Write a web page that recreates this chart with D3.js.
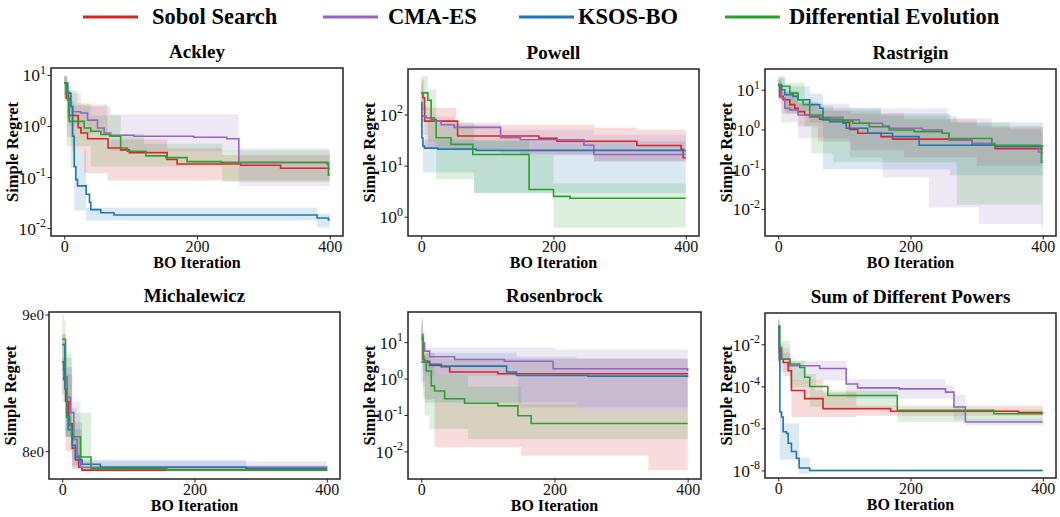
<!DOCTYPE html>
<html>
<head>
<meta charset="utf-8">
<script src="https://cdn.jsdelivr.net/npm/d3@7"></script>
<style>
  body { margin: 0; background: #fff; }
  svg { display: block; font-family: "Liberation Serif", "Times New Roman", serif; }
</style>
</head>
<body>
<svg id="chart"></svg>
<script>
// methods and colours
const methods = ["Sobol Search", "CMA-ES", "KSOS-BO", "Differential Evolution"];
const colors = ["#d62728", "#9467bd", "#1f77b4", "#2ca02c"];
const titles = ["Ackley", "Powell", "Rastrigin", "Michalewicz", "Rosenbrock", "Sum of Different Powers"];
const xTicks = [0, 200, 400];

// mean curves: [iteration, simple regret]; bands: [iteration, lower, upper]
// --- Ackley
const ackleySobol = [[0,6.9],[3,3.5],[7,1.6],[21,0.92],[25,0.73],[35,0.56],[66,0.37],[85,0.34],[98,0.30],[155,0.22],[170,0.18],[266,0.17],[326,0.148],[400,0.148]];
const ackleySobolBand = [[0,3,9.5],[4,0.6,4],[12,0.32,2.6],[30,0.12,2.6],[65,0.085,0.55],[155,0.085,0.36],[238,0.085,0.27],[400,0.085,0.27]];
const ackleyCma = [[0,6.9],[5,3.2],[7.5,2.4],[12.5,1.9],[25,1.8],[35,1.3],[50,0.91],[60,0.73],[70,0.66],[105,0.63],[195,0.6],[245,0.56],[263,0.19],[400,0.19]];
const ackleyCmaBand = [[0,4,9.5],[5,1.0,4.4],[25,0.73,2.4],[70,0.32,1.7],[263,0.067,0.36],[400,0.067,0.36]];
const ackleyKsos = [[0,7],[5,4.4],[10,2.4],[12.5,0.63],[15,0.16],[17.5,0.089],[20,0.067],[33,0.046],[38,0.032],[40,0.023],[55,0.020],[75,0.018],[381,0.0157],[398,0.0144],[400,0.0144]];
const ackleyKsosBand = [[0,4,9],[5,1.5,6],[10,0.15,3],[15,0.022,0.32],[33,0.014,0.025],[381,0.0103,0.019],[400,0.0103,0.019]];
const ackleyDe = [[0,6.9],[3.5,4.7],[6.5,1.43],[7.5,1.23],[30,0.91],[40,0.79],[55,0.68],[68,0.63],[85,0.37],[95,0.32],[123,0.26],[153,0.24],[185,0.2],[236,0.195],[396,0.18],[398,0.11],[400,0.11]];
const ackleyDeBand = [[0,3.5,10],[3.5,0.4,5],[20,0.4,2.8],[40,0.16,1.6],[85,0.16,0.7],[120,0.16,0.45],[238,0.08,0.33],[400,0.08,0.33]];
// --- Powell
const powellSobol = [[0,265],[2.5,212],[5,74],[55,38],[178,34],[205,30],[326,24.7],[393,20.8],[396,14.2],[400,14.2]];
const powellSobolBand = [[0,120,480],[5,21,135],[53,21,63],[150,16.5,63],[261,12.3,55],[326,12.3,50],[400,12.3,50]];
const powellCma = [[0,93],[7.5,86],[20,74],[30,63],[50,56],[120,35],[150,32],[246,25],[261,16.5],[400,16.5]];
const powellCmaBand = [[0,40,150],[10,22,90],[50,20,70],[120,16,50],[261,12,40],[400,12,40]];
const powellKsos = [[0,170],[1,35],[2.5,24],[5,22],[25,21],[83,19.8],[400,19.8]];
const powellKsosBand = [[0,60,400],[2.5,7.3,32],[80,2.9,30],[400,2.9,30]];
const powellDe = [[0,265],[10,190],[15,80],[22.5,35],[45,26],[78,16.5],[163,3.4],[200,2.5],[225,2.3],[400,2.3]];
const powellDeBand = [[0,120,560],[10,30,300],[22.5,5.4,69],[80,2.9,32],[163,2.9,16],[200,0.61,4.5],[400,0.61,4.5]];
// --- Rastrigin
const rastSobol = [[0,12.2],[2.5,6.8],[7.5,5.6],[17.5,4.2],[25,3.4],[30,2.8],[40,2.3],[47.6,2.1],[62.7,1.8],[97.7,1.49],[107.8,1.0],[120.3,0.8],[155.4,0.66],[172.9,0.57],[293,0.40],[328,0.33],[400,0.33]];
const rastSobolBand = [[0,6,18],[5,2.5,9],[30,1.2,5],[60,0.5,3.0],[110,0.3,2.5],[190,0.2,1.8],[300,0.12,1.2],[400,0.12,1.0]];
const rastCma = [[0,12.2],[5,6.2],[10,3.4],[17.5,3.1],[30,2.3],[47.6,2.03],[97.7,1.74],[122.8,1.43],[157.9,1.22],[167.9,1.07],[218,0.97],[248,0.8],[258,0.54],[293,0.45],[328,0.37],[393.5,0.27],[398,0.25],[400,0.25]];
const rastCmaBand = [[0,5,18],[5,1.5,9],[30,0.6,4.5],[108,0.2,3.4],[158,0.063,3.4],[228,0.011,3.4],[256,0.011,1.9],[303,0.0042,1.9],[323,0.0042,1.1],[400,0.0042,1.1]];
const rastKsos = [[0,13.4],[5,10],[10,7.5],[22.5,6.8],[30,5.6],[47.6,4.2],[62.7,3.4],[67.7,1.74],[77.7,1.57],[97.7,1.43],[102.8,1.07],[135.3,0.8],[172.9,0.66],[213,0.40],[328,0.38],[400,0.37]];
const rastKsosBand = [[0,7,20],[10,3,12],[47.6,1.5,8],[67.7,0.1,3.5],[155,0.1,2.5],[260,0.07,1.5],[400,0.07,1.3]];
const rastDe = [[0,13.4],[2.5,12.2],[17.5,8.2],[30,5.6],[37.6,4.2],[47.6,2.3],[67.7,1.9],[77.7,1.74],[97.7,1.64],[112.8,1.43],[137.8,1.17],[167.9,0.97],[205.5,0.88],[248,0.8],[258,0.59],[323,0.40],[396,0.38],[398,0.15],[400,0.15]];
const rastDeBand = [[0,6,22],[10,2.5,15],[40,1.2,6],[50,0.25,4],[83,0.15,3],[155,0.15,2.2],[270,0.013,1.5],[350,0.013,1.0],[398,0.003,0.8],[400,0.003,0.8]];
// --- Michalewicz
const michSobol = [[0,8.64],[2.5,8.51],[5,8.35],[10,8.19],[15,8.02],[20,7.94],[25,7.89],[30,7.87],[400,7.865]];
const michSobolBand = [[0,8.4,8.85],[5,8.0,8.55],[15,7.9,8.15],[30,7.86,7.89],[400,7.86,7.875]];
const michCma = [[0,8.58],[2.5,8.53],[7.5,8.38],[12.5,8.27],[17.5,8.08],[22.5,7.97],[27.6,7.89],[400,7.88]];
const michCmaBand = [[0,8.35,8.67],[5,8.1,8.67],[15,7.88,8.35],[27.6,7.86,7.93],[400,7.865,7.89]];
const michKsos = [[0,8.77],[1.5,8.77],[4,8.44],[6.5,8.24],[9,8.15],[15,8.04],[20,7.96],[25,7.94],[30,7.91],[57.6,7.89],[278,7.88],[400,7.88]];
const michKsosBand = [[0,8.5,8.85],[5,8.1,8.6],[15,7.88,8.2],[30,7.865,7.94],[278,7.865,7.9],[400,7.87,7.885]];
const michDe = [[0,8.81],[2.5,8.81],[5,8.44],[7.5,8.24],[11.5,8.18],[14,8.10],[27.6,7.96],[43.6,7.88],[158,7.87],[400,7.87]];
const michDeBand = [[0,8.6,9.0],[2.5,8.5,8.95],[5,8.1,8.7],[14,7.95,8.3],[22,7.91,8.27],[43.6,7.87,7.9],[400,7.865,7.875]];
// --- Rosenbrock
const rosSobol = [[0,11.8],[2.5,3.36],[5,3.0],[12.5,2.3],[30,2.12],[42.6,1.51],[115,1.36],[400,1.33]];
const rosSobolBand = [[0,3,30],[2.5,0.6,6],[5,0.27,5.1],[20,0.0129,3.5],[150,0.0076,3.5],[341,0.003,3.5],[400,0.003,3.5]];
const rosCma = [[0,16.2],[2.5,9.6],[5,5.7],[12.5,3.98],[50,3.36],[125,3.0],[198,1.86],[400,1.61]];
const rosCmaBand = [[0,5,45],[2.5,1.5,20],[5,1.17,7.0],[145,0.16,7.0],[200,0.16,6.3],[400,0.16,6.3]];
const rosKsos = [[0,2.84],[12.5,2.45],[30,2.2],[128,1.51],[143,1.22],[250,1.17],[400,1.10]];
const rosKsosBand = [[0,0.8,5.1],[5,0.22,5.1],[143,0.22,4.0],[233,0.117,3.5],[400,0.117,3.5]];
const rosDe = [[0,13.7],[2.5,4.1],[4,2.84],[7.5,1.61],[15,0.63],[20,0.457],[35,0.28],[65,0.21],[115,0.178],[145,0.095],[165,0.058],[400,0.058]];
const rosDeBand = [[0,3,42],[2.5,0.3,15],[5,0.095,4.1],[12.5,0.041,2.5],[20,0.041,1.2],[70,0.022,0.6],[150,0.022,0.2],[233,0.022,0.117],[400,0.022,0.117]];
// --- Sum of Different Powers
const sdpSobol = [[0,0.073],[1.5,0.007],[3.5,0.00197],[7.5,0.00137],[15,5.5e-4],[20,6.3e-5],[40,2.6e-5],[67.7,8.7e-6],[170,6.5e-6],[363,5.6e-6],[400,5.6e-6]];
const sdpSobolBand = [[0,0.02,0.15],[1.5,0.002,0.01],[7.5,3e-4,0.004],[20,3.5e-6,2e-4],[67.7,3.5e-6,5.3e-5],[118,4e-6,1.2e-5],[400,4e-6,8e-6]];
const sdpCma = [[0,0.061],[1.5,0.0041],[5,0.00197],[17.5,9.5e-4],[62.6,7.1e-4],[102.8,1.3e-4],[120,8.5e-5],[183,7.6e-5],[253,5.3e-5],[265.7,1.05e-5],[283,2.0e-6],[400,2.0e-6]];
const sdpCmaBand = [[0,0.02,0.15],[1.5,5e-4,0.007],[17.5,1.9e-4,0.00164],[102.8,2.6e-5,2.2e-4],[253,2.6e-5,1.2e-4],[265.7,2.6e-6,4e-5],[283,1.4e-6,3e-6],[400,1.4e-6,3e-6]];
const sdpKsos = [[0,0.061],[1.5,0.00164],[2.5,6e-6],[5,3.5e-6],[7.5,6.9e-7],[12.5,5.7e-7],[15,1.95e-7],[20,7.9e-8],[27.5,3.8e-8],[31.6,1.3e-8],[47.6,1e-8],[400,1e-8]];
const sdpKsosBand = [[0,0.01,0.15],[1.5,2e-5,0.007],[2.5,3.2e-8,6e-6],[7.5,3.2e-8,1.7e-6],[31.6,7e-9,4e-8],[47.6,8.5e-9,1.15e-8],[400,8.5e-9,1.15e-8]];
const sdpDe = [[0,0.073],[2.5,0.007],[5,0.00197],[17.5,0.00115],[32.6,7.9e-4],[40,2.7e-4],[47.6,9.8e-5],[75,3.7e-5],[180,7.2e-6],[326,5.0e-6],[400,5.0e-6]];
const sdpDeBand = [[0,0.03,0.15],[2.5,0.002,0.0144],[17.5,9.1e-5,0.00164],[40,9.1e-5,3.9e-4],[47.6,1.05e-5,3.9e-4],[57,1.05e-5,6.3e-5],[180,2e-6,8e-6],[400,2e-6,8e-6]];

// y axes
const ackleyDomain = [Math.pow(10,-2.156), Math.pow(10,1.136)];
const powellDomain = [Math.pow(10,-0.378), Math.pow(10,2.89)];
const rastDomain = [Math.pow(10,-2.68), Math.pow(10,1.52)];
const michDomain = [7.81, 9.02];
const rosDomain = [Math.pow(10,-2.76), Math.pow(10,1.83)];
const sdpDomain = [Math.pow(10,-8.36), Math.pow(10,-0.51)];
const ackleyTicks = [1e-2, 1e-1, 1, 10];
const powellTicks = [1, 10, 100];
const rastTicks = [1e-2, 1e-1, 1, 10];
const michTicks = [8, 9];
const rosTicks = [1e-2, 1e-1, 1, 10];
const sdpTicks = [1e-8, 1e-6, 1e-4, 1e-2];

const panels = [
  { means: [ackleySobol, ackleyCma, ackleyKsos, ackleyDe], bands: [ackleySobolBand, ackleyCmaBand, ackleyKsosBand, ackleyDeBand], domain: ackleyDomain, ticks: ackleyTicks },
  { means: [powellSobol, powellCma, powellKsos, powellDe], bands: [powellSobolBand, powellCmaBand, powellKsosBand, powellDeBand], domain: powellDomain, ticks: powellTicks },
  { means: [rastSobol, rastCma, rastKsos, rastDe], bands: [rastSobolBand, rastCmaBand, rastKsosBand, rastDeBand], domain: rastDomain, ticks: rastTicks },
  { means: [michSobol, michCma, michKsos, michDe], bands: [michSobolBand, michCmaBand, michKsosBand, michDeBand], domain: michDomain, ticks: michTicks, sci: true },
  { means: [rosSobol, rosCma, rosKsos, rosDe], bands: [rosSobolBand, rosCmaBand, rosKsosBand, rosDeBand], domain: rosDomain, ticks: rosTicks },
  { means: [sdpSobol, sdpCma, sdpKsos, sdpDe], bands: [sdpSobolBand, sdpCmaBand, sdpKsosBand, sdpDeBand], domain: sdpDomain, ticks: sdpTicks }
];

// frame boxes [left, top, right, bottom]
const boxes = [[51,68,343,236],[408,69,699,236],[765,69,1056,236],[49,312,340,479],[408,312,701,479],[765,313,1056,478]];

const svg = d3.select("#chart").attr("width", 1060).attr("height", 517);

// legend
const legendX = [[83,152],[323,388],[519,578],[725,789]];
const legend = svg.append("g");
methods.forEach((m, i) => {
  legend.append("line")
    .attr("x1", legendX[i][0]).attr("x2", legendX[i][0] + 55)
    .attr("y1", 17).attr("y2", 17)
    .attr("stroke", colors[i]).attr("stroke-width", 3);
  legend.append("text")
    .attr("x", legendX[i][1]).attr("y", 24)
    .attr("font-size", 22.5).attr("font-weight", "bold")
    .text(m);
});

panels.forEach((p, k) => {
  const [l, t, r, b] = boxes[k];
  const x = d3.scaleLinear().domain([-20, 420]).range([l, r]);
  const y = d3.scaleLog().domain(p.domain).range([b, t]);
  const g = svg.append("g");

  g.append("clipPath").attr("id", "clip" + k)
    .append("rect").attr("x", l).attr("y", t).attr("width", r - l).attr("height", b - t);
  const plot = g.append("g").attr("clip-path", `url(#clip${k})`);

  const area = d3.area().curve(d3.curveStepAfter)
    .x(d => x(d[0])).y0(d => y(d[1])).y1(d => y(d[2]));
  const line = d3.line().curve(d3.curveStepAfter)
    .x(d => x(d[0])).y(d => y(d[1]));

  p.bands.forEach((band, i) => {
    plot.append("path").attr("d", area(band))
      .attr("fill", colors[i]).attr("fill-opacity", 0.16);
  });
  p.means.forEach((mean, i) => {
    plot.append("path").attr("d", line(mean))
      .attr("fill", "none").attr("stroke", colors[i]).attr("stroke-width", 1.6);
  });

  // x axis
  const xa = g.append("g").attr("transform", `translate(0,${b})`)
    .call(d3.axisBottom(x).tickValues(xTicks).tickSize(3.5).tickPadding(1).tickFormat(d3.format("d")))
    .attr("font-family", null).attr("font-size", 16);
  xa.select(".domain").remove();
  xa.selectAll("line").attr("stroke", "#222");
  xa.selectAll("text").attr("fill", "#111");

  // y axis
  const ya = g.append("g").attr("transform", `translate(${l},0)`)
    .call(d3.axisLeft(y).tickValues(p.ticks).tickSize(3.5).tickFormat(""))
    .attr("font-family", null);
  ya.select(".domain").remove();
  ya.selectAll("line").attr("stroke", "#222");
  ya.selectAll(".tick text").remove();
  ya.selectAll(".tick").each(function(v) {
    const txt = d3.select(this).append("text")
      .attr("x", -5).attr("y", 6).attr("text-anchor", "end").attr("fill", "#111");
    if (p.sci) {
      txt.attr("font-size", 15).attr("y", 5).text(v + "e0");
    } else {
      txt.append("tspan").attr("font-size", 17.5).text("10");
      txt.append("tspan").attr("font-size", 12).attr("dy", -7.5).text(Math.round(Math.log10(v)));
    }
  });

  // frame
  g.append("rect").attr("x", l).attr("y", t).attr("width", r - l).attr("height", b - t)
    .attr("fill", "none").attr("stroke", "#222").attr("stroke-width", 1.5);

  // labels
  g.append("text").attr("x", (l + r) / 2).attr("y", t - 10)
    .attr("text-anchor", "middle").attr("font-size", 19).attr("font-weight", "bold")
    .text(titles[k]);
  g.append("text").attr("x", (l + r) / 2).attr("y", b + 31.5)
    .attr("text-anchor", "middle").attr("font-size", 16).attr("font-weight", "bold")
    .text("BO Iteration");
  g.append("text")
    .attr("transform", `translate(${l - 33},${(t + b) / 2}) rotate(-90)`)
    .attr("text-anchor", "middle").attr("font-size", 16.5).attr("font-weight", "bold")
    .text("Simple Regret");
});
</script>
</body>
</html>
